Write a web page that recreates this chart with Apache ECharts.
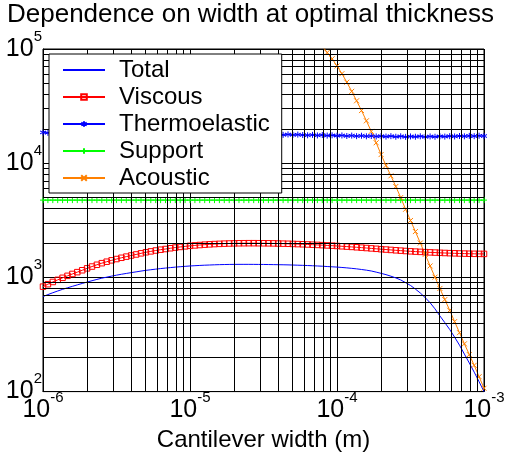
<!DOCTYPE html>
<html><head><meta charset="utf-8">
<script src="https://cdn.jsdelivr.net/npm/echarts@6/dist/echarts.min.js"></script>
<style>html,body{margin:0;padding:0;background:#fff}#c{width:509px;height:457px}</style>
</head><body><div id="c"></div>
<script>
// Cantilever widths (m), log-spaced samples
const widths = [
  1.000e-6,1.080e-6,1.166e-6,1.259e-6,1.359e-6,1.468e-6,1.585e-6,1.711e-6,1.848e-6,1.995e-6,
  2.154e-6,2.326e-6,2.512e-6,2.712e-6,2.929e-6,3.162e-6,3.415e-6,3.687e-6,3.981e-6,4.299e-6,
  4.642e-6,5.012e-6,5.412e-6,5.843e-6,6.310e-6,6.813e-6,7.356e-6,7.943e-6,8.577e-6,9.261e-6,
  1.000e-5,1.080e-5,1.166e-5,1.259e-5,1.359e-5,1.468e-5,1.585e-5,1.711e-5,1.848e-5,1.995e-5,
  2.154e-5,2.326e-5,2.512e-5,2.712e-5,2.929e-5,3.162e-5,3.415e-5,3.687e-5,3.981e-5,4.299e-5,
  4.642e-5,5.012e-5,5.412e-5,5.843e-5,6.310e-5,6.813e-5,7.356e-5,7.943e-5,8.577e-5,9.261e-5,
  1.000e-4,1.080e-4,1.166e-4,1.259e-4,1.359e-4,1.468e-4,1.585e-4,1.711e-4,1.848e-4,1.995e-4,
  2.154e-4,2.326e-4,2.512e-4,2.712e-4,2.929e-4,3.162e-4,3.415e-4,3.687e-4,3.981e-4,4.299e-4,
  4.642e-4,5.012e-4,5.412e-4,5.843e-4,6.310e-4,6.813e-4,7.356e-4,7.943e-4,8.577e-4,9.261e-4,
  1.000e-3
];
const totalQ = [
  680,707,734,760,786,811,835,860,885,910,
  935,960,984,1005,1026,1046,1065,1083,1101,1118,
  1136,1153,1167,1181,1195,1207,1219,1230,1240,1250,
  1259,1266,1273,1279,1284,1289,1293,1296,1299,1300,
  1301,1301,1301,1300,1299,1298,1296,1294,1292,1290,
  1287,1283,1279,1275,1270,1265,1259,1253,1245,1238,
  1231,1222,1212,1200,1188,1173,1157,1138,1112,1085,
  1057,1025,990,950,900,850,790,730,665,600,
  530,460,402,350,300,255,213,178,148,122,
  100
];
const viscousQ = [
  830,872,912,952,992,1032,1072,1112,1155,1200,
  1245,1290,1332,1372,1410,1448,1485,1520,1555,1588,
  1625,1660,1690,1720,1748,1772,1800,1825,1848,1870,
  1890,1906,1921,1935,1948,1958,1967,1975,1981,1986,
  1990,1992,1993,1993,1992,1990,1988,1985,1980,1975,
  1970,1964,1957,1950,1942,1934,1925,1916,1906,1896,
  1885,1873,1861,1849,1836,1822,1808,1794,1780,1766,
  1753,1740,1727,1715,1703,1692,1682,1673,1664,1656,
  1649,1642,1636,1630,1625,1620,1616,1612,1609,1607,
  1606
];
const thermoQ = [
  18600,18450,18700,18500,18400,18650,18450,18550,18350,18500,
  18400,18600,18300,18450,18350,18500,18250,18400,18300,18450,
  18250,18350,18200,18400,18150,18300,18200,18100,18300,18150,
  18100,18250,18050,18150,18000,18200,17950,18100,18000,17900,
  18050,17850,18000,17900,17800,17950,17750,17900,17800,17700,
  17850,17700,17800,17650,17550,17700,17500,17650,17450,17550,
  17400,17500,17300,17450,17250,17400,17200,17300,17150,17250,
  17100,17250,17050,17200,17000,17150,17050,17200,17000,17150,
  17050,17200,17100,17250,17150,17300,17200,17350,17250,17400,
  17300
];
const supportQ = [
  4750,4750,4750,4750,4750,4750,4750,4750,4750,4750,
  4750,4750,4750,4750,4750,4750,4750,4750,4750,4750,
  4750,4750,4750,4750,4750,4750,4750,4750,4750,4750,
  4750,4750,4750,4750,4750,4750,4750,4750,4750,4750,
  4750,4750,4750,4750,4750,4750,4750,4750,4750,4750,
  4750,4750,4750,4750,4750,4750,4750,4750,4750,4750,
  4750,4750,4750,4750,4750,4750,4750,4750,4750,4750,
  4750,4750,4750,4750,4750,4750,4750,4750,4750,4750,
  4750,4750,4750,4750,4750,4750,4750,4750,4750,4750,
  4750
];
// Acoustic Q starts at sample index acousticFirst (values above 1e5 earlier are off-chart)
const acousticFirst = 57;
const acousticQ = [
  106000,93100,82000,71000,60800,51200,42600,35200,28900,23500,
  19000,15100,11900,9550,7750,6250,5000,3950,3150,2520,
  2000,1590,1260,1005,800,640,515,410,328,262,
  211,170,135,107
];
const seriesNames = ['Total','Viscous','Thermoelastic','Support','Acoustic'];
const xTickExps = [-6,-5,-4,-3];
const yTickExps = [2,3,4,5];
const minorX = [2e-6,3e-6,4e-6,5e-6,6e-6,7e-6,8e-6,9e-6,
                2e-5,3e-5,4e-5,5e-5,6e-5,7e-5,8e-5,9e-5,
                2e-4,3e-4,4e-4,5e-4,6e-4,7e-4,8e-4,9e-4];
const minorY = [200,300,400,500,600,700,800,900,
                2000,3000,4000,5000,6000,7000,8000,9000,
                20000,30000,40000,50000,60000,70000,80000,90000];
const xRange = [1e-6, 1e-3];
const yRange = [100, 1e5];

const FONT = '"Liberation Sans", Arial, Helvetica, sans-serif';
const pairs = (ys, off) => ys.map((y, i) => [widths[i + (off || 0)], y]);
const supLabel = (exps) => (v) => {
  const e = Math.round(Math.log10(v));
  return exps.indexOf(e) >= 0 ? '{b|10}{s|' + e + '}' : '';
};
const rich = {
  b: {fontSize: 25, fontFamily: FONT, color: '#000', lineHeight: 40},
  s: {fontSize: 15, fontFamily: FONT, color: '#000', verticalAlign: 'top', lineHeight: 16}
};

const gridLines = minorX.map(v => [{coord: [v, yRange[0]]}, {coord: [v, yRange[1]]}])
  .concat(minorY.map(v => [{coord: [xRange[0], v]}, {coord: [xRange[1], v]}]));

const chart = echarts.init(document.getElementById('c'), null, {renderer: 'canvas'});
chart.setOption({
  animation: false,
  backgroundColor: '#fff',
  title: {
    text: 'Dependence on width at optimal thickness',
    left: 7, top: 2, padding: 0,
    textStyle: {fontFamily: FONT, fontSize: 26, fontWeight: 'normal', color: '#000'}
  },
  grid: {left: 43, right: 25, top: 49, bottom: 62, show: true, borderColor: '#000', borderWidth: 1, backgroundColor: 'transparent'},
  legend: {
    data: [
      {name: 'Total', itemStyle: {opacity: 0}},
      'Viscous', 'Thermoelastic', 'Support', 'Acoustic'
    ],
    orient: 'vertical',
    left: 49, top: 54,
    backgroundColor: '#fff',
    borderColor: '#000', borderWidth: 1,
    padding: [4, 12, 3, 13],
    itemWidth: 42, itemHeight: 7, itemGap: 3,
    textStyle: {fontFamily: FONT, fontSize: 24, color: '#000', padding: [0, 0, 0, 9]},
    z: 10
  },
  xAxis: {
    type: 'log', logBase: 10, min: xRange[0], max: xRange[1],
    name: 'Cantilever width (m)', nameLocation: 'middle', nameGap: 35,
    nameTextStyle: {fontFamily: FONT, fontSize: 24, color: '#000'},
    axisLine: {show: true, lineStyle: {color: '#000'}},
    axisTick: {show: false},
    axisLabel: {formatter: supLabel(xTickExps), rich: rich, margin: -1, color: '#000'},
    splitLine: {show: true, lineStyle: {color: '#000', width: 1}},
    minorTick: {show: false}
  },
  yAxis: {
    type: 'log', logBase: 10, min: yRange[0], max: yRange[1],
    axisLine: {show: true, lineStyle: {color: '#000'}},
    axisTick: {show: false},
    axisLabel: {formatter: supLabel(yTickExps), rich: rich, margin: 1, color: '#000'},
    splitLine: {show: true, lineStyle: {color: '#000', width: 1}}
  },
  series: [
    {
      type: 'line', data: [], silent: true, z: 1, name: '_grid',
      markLine: {
        silent: true, symbol: ['none', 'none'], animation: false,
        label: {show: false},
        emphasis: {disabled: true},
        lineStyle: {color: '#000', width: 1, type: 'solid'},
        data: gridLines
      }
    },
    {
      name: 'Total', type: 'line', data: pairs(totalQ), symbol: 'circle', showSymbol: false, z: 3,
      lineStyle: {color: '#0000ff', width: 1}, itemStyle: {color: '#0000ff'}
    },
    {
      name: 'Viscous', type: 'line', data: pairs(viscousQ), z: 3,
      symbol: 'rect', symbolSize: 5.5, showAllSymbol: true,
      lineStyle: {color: '#ff0000', width: 1},
      itemStyle: {color: 'rgba(255,0,0,0)', borderColor: '#ff0000', borderWidth: 1}
    },
    {
      name: 'Thermoelastic', type: 'line', data: pairs(thermoQ), z: 3,
      symbol: 'path://M5,0L5,10M0.67,2.5L9.33,7.5M0.67,7.5L9.33,2.5', symbolSize: 6, showAllSymbol: true,
      lineStyle: {color: '#0000ff', width: 1},
      itemStyle: {color: '#0000ff', borderColor: '#0000ff', borderWidth: 1}
    },
    {
      name: 'Support', type: 'line', data: pairs(supportQ), z: 3,
      symbol: 'path://M5,0L5,10M0,5L10,5', symbolSize: 6, showAllSymbol: true,
      lineStyle: {color: '#00ff00', width: 1},
      itemStyle: {color: '#00ff00', borderColor: '#00ff00', borderWidth: 1}
    },
    {
      name: 'Acoustic', type: 'line', data: pairs(acousticQ, acousticFirst), z: 3,
      symbol: 'path://M0,0L10,10M0,10L10,0', symbolSize: 5, showAllSymbol: true,
      lineStyle: {color: '#ff8000', width: 1},
      itemStyle: {color: '#ff8000', borderColor: '#ff8000', borderWidth: 1}
    }
  ]
});
</script>
</body></html>
